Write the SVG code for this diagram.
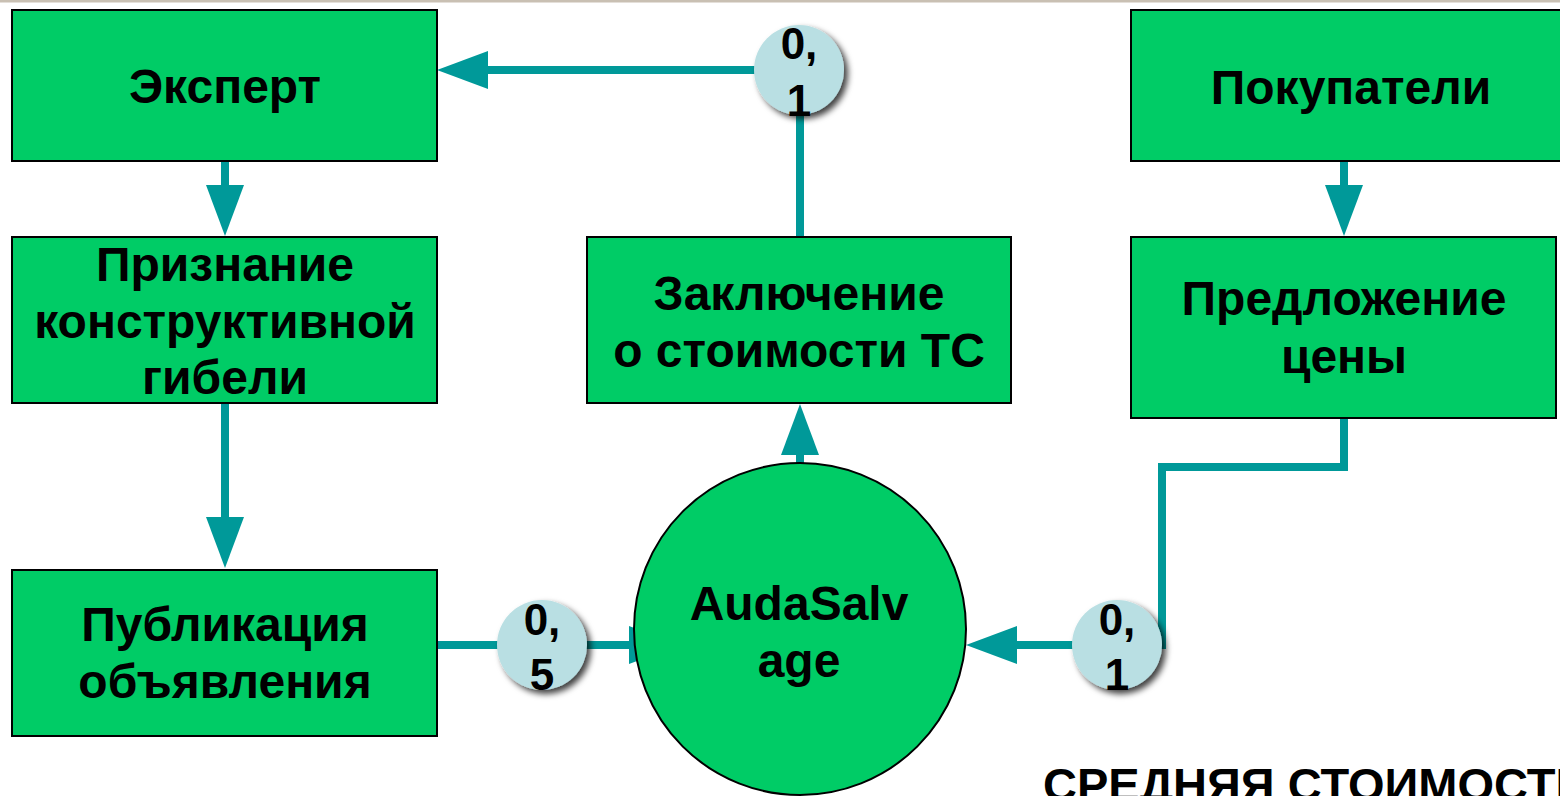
<svg xmlns="http://www.w3.org/2000/svg" width="1560" height="796" viewBox="0 0 1560 796">
<defs>
<style>
.box{fill:#00cc66;stroke:#000;stroke-width:2}
.t{font-family:"Liberation Sans",Arial,sans-serif;font-weight:bold;font-size:48px;fill:#000;text-anchor:middle}
.n{font-family:"Liberation Sans",Arial,sans-serif;font-weight:bold;font-size:44px;fill:#000;text-anchor:middle}
.c{fill:none;stroke:#009999;stroke-width:8;stroke-linejoin:miter}
.sm{fill:#b9dfe3}
</style>
<marker id="ah" markerUnits="userSpaceOnUse" markerWidth="52" markerHeight="38" refX="0" refY="19" orient="auto" viewBox="0 0 52 38">
<path d="M0,0 L51,19 L0,38 z" fill="#009999"/>
</marker>
<filter id="sh" x="-30%" y="-30%" width="170%" height="170%">
<feDropShadow dx="4" dy="4" stdDeviation="3" flood-color="#000" flood-opacity="0.75"/>
</filter>
</defs>
<rect x="0" y="0" width="1560" height="2.5" fill="#c9c0b3"/>
<g id="connectors">
<path class="c" d="M225,161 V185" marker-end="url(#ah)"/>
<path class="c" d="M225,403 V517" marker-end="url(#ah)"/>
<path class="c" d="M1344,161 V185" marker-end="url(#ah)"/>
<path class="c" d="M800,463 V455" marker-end="url(#ah)"/>
<path class="c" d="M800,237 V70 H488" marker-end="url(#ah)"/>
<path class="c" d="M437,645 H629" marker-end="url(#ah)"/>
<path class="c" d="M1344,418 V467 H1162 V645 H1017" marker-end="url(#ah)"/>
</g>
<g id="expert">
<rect class="box" x="12" y="10" width="425" height="151"/>
<text class="t" x="225" y="103">Эксперт</text>
</g>
<g id="priznanie">
<rect class="box" x="12" y="237" width="425" height="166"/>
<text class="t" x="225" y="281">Признание</text>
<text class="t" x="225" y="338">конструктивной</text>
<text class="t" x="225" y="394">гибели</text>
</g>
<g id="publikaciya">
<rect class="box" x="12" y="570" width="425" height="166"/>
<text class="t" x="225" y="641">Публикация</text>
<text class="t" x="225" y="698">объявления</text>
</g>
<g id="zaklyuchenie">
<rect class="box" x="587" y="237" width="424" height="166"/>
<text class="t" x="799" y="310">Заключение</text>
<text class="t" x="799" y="367">о стоимости ТС</text>
</g>
<g id="pokupateli">
<rect class="box" x="1131" y="10" width="440" height="151"/>
<text class="t" x="1351" y="104">Покупатели</text>
</g>
<g id="predlozhenie">
<rect class="box" x="1131" y="237" width="425" height="181"/>
<text class="t" x="1344" y="315">Предложение</text>
<text class="t" x="1344" y="373">цены</text>
</g>
<g id="audasalvage">
<circle cx="800" cy="629" r="166" fill="#00cc66" stroke="#000" stroke-width="2"/>
<text class="t" x="799" y="620">AudaSalv</text>
<text class="t" x="799" y="677">age</text>
</g>
<g id="k-top">
<circle class="sm" cx="799" cy="70" r="45" filter="url(#sh)"/>
<text class="n" x="799" y="59">0,</text>
<text class="n" x="799" y="116">1</text>
</g>
<g id="k-left">
<circle class="sm" cx="542" cy="645" r="45" filter="url(#sh)"/>
<text class="n" x="542" y="635">0,</text>
<text class="n" x="542" y="690">5</text>
</g>
<g id="k-right">
<circle class="sm" cx="1117" cy="645" r="45" filter="url(#sh)"/>
<text class="n" x="1117" y="635">0,</text>
<text class="n" x="1117" y="690">1</text>
</g>
<text class="t" x="1043" y="801" style="text-anchor:start;font-size:47px">СРЕДНЯЯ СТОИМОСТЬ</text>
</svg>
